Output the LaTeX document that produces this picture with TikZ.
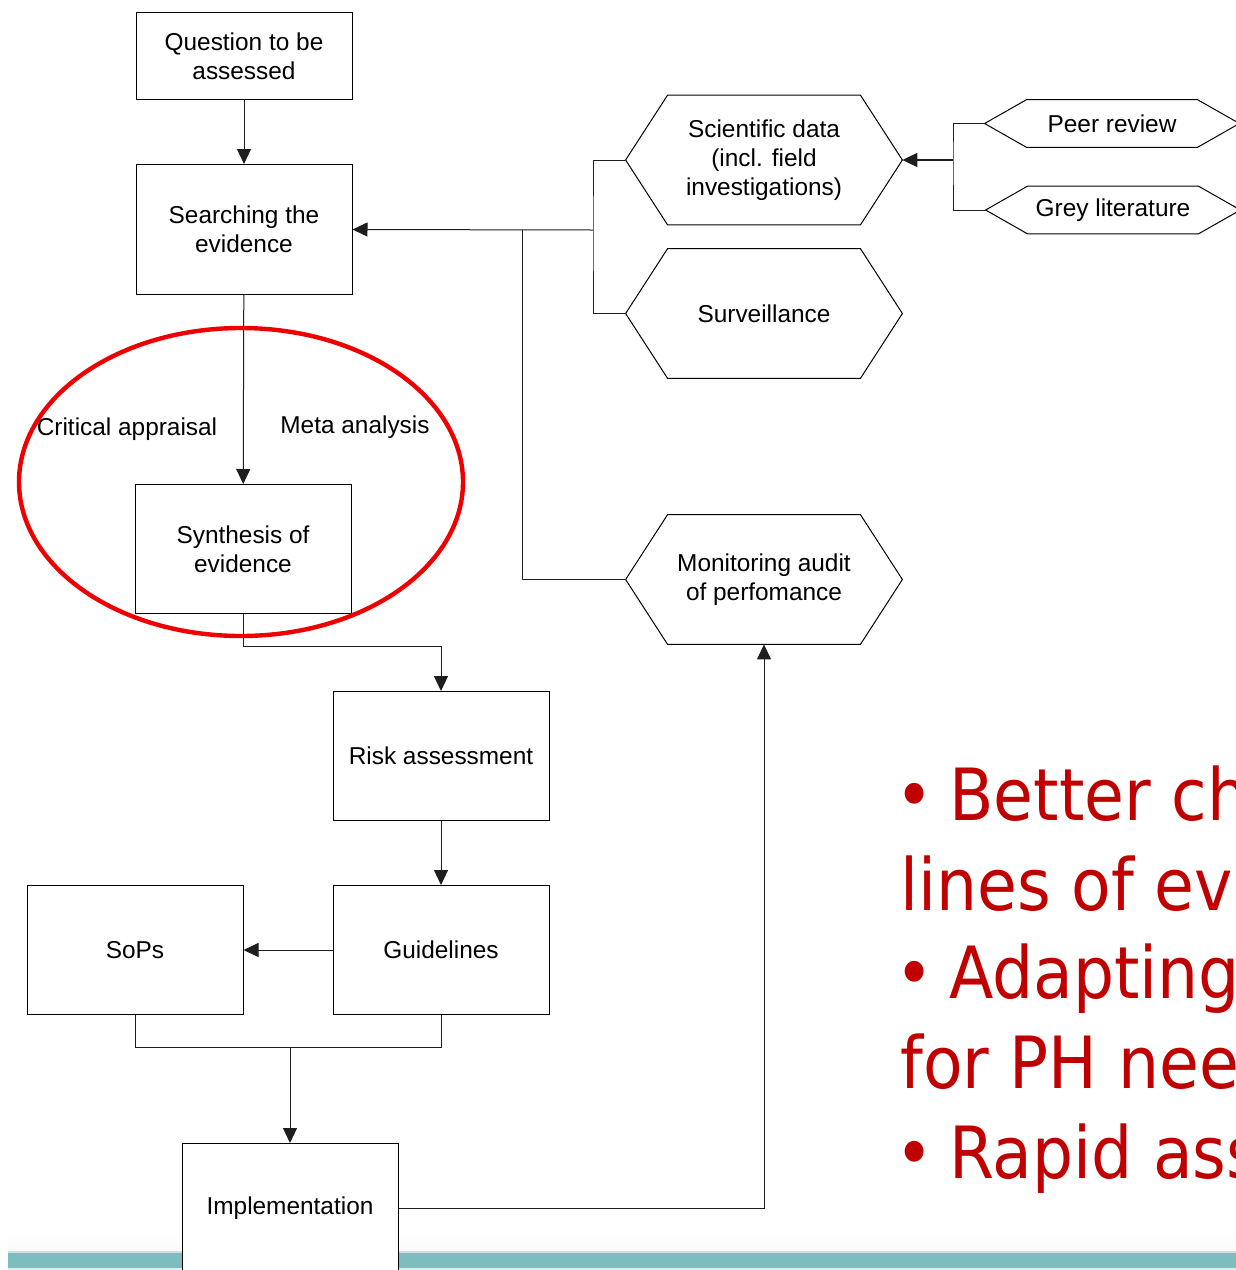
\documentclass[tikz,border=0pt]{standalone}
\usepackage{fontspec}
\setmainfont{Liberation Sans}
\newfontfamily\slidefont{DejaVu Sans Condensed}
\usetikzlibrary{arrows.meta}

\definecolor{linegray}{RGB}{30,30,30}
\definecolor{ringred}{RGB}{238,0,0}
\definecolor{bulletred}{RGB}{192,0,0}
\definecolor{bandteal}{RGB}{126,189,189}
\definecolor{bandlight}{RGB}{196,226,226}
\definecolor{hazepink}{RGB}{252,248,250}

\begin{document}
\begin{tikzpicture}[x=0.5pt,y=-0.5pt,
  txt/.style={font=\fontsize{12.2}{14.5}\selectfont},
  box/.style={txt, draw=black, line width=0.5pt, fill=white, align=center,
    inner sep=0pt, minimum width=108pt, minimum height=65pt},
  hexnode/.style={txt, align=center, inner sep=0pt,
    minimum width=138pt, minimum height=64.5pt},
  smallhex/.style={txt, align=center, inner sep=0pt,
    minimum width=127pt, minimum height=23.5pt},
  conn/.style={line width=0.5pt, draw=linegray},
  arr/.style={conn, -{Triangle[length=7.5pt,width=7pt]}},
  redline/.style={font=\slidefont\fontsize{36}{40}\selectfont, text=bulletred,
    anchor=base west, inner sep=0pt},
]
\useasboundingbox (0,0) rectangle (1236,1270);
\clip (0,0) rectangle (1236,1270);

% footer band
\shade[top color=white, bottom color=hazepink] (8,1234) rectangle (1236,1251);
\fill[bandteal] (8,1251) rectangle (1236,1268);
\fill[bandlight] (8,1251) rectangle (1236,1252.5);
\fill[bandlight!60] (8,1268) rectangle (1236,1270);

% process boxes
\node[box, minimum height=43.5pt] (question) at (244,56) {Question to be\\assessed};
\node[box] (search) at (244,229.5) {Searching the\\evidence};
\node[box, minimum height=64.5pt] (synth) at (243,549) {Synthesis of\\evidence};
\node[box, minimum height=64.5pt] (risk) at (441,756) {Risk assessment};
\node[box, minimum height=64.5pt] (guide) at (441,950) {Guidelines};
\node[box, minimum height=64.5pt] (sops) at (135,950) {SoPs};
\node[box] (impl) at (290,1208.5) {Implementation};

% evidence sources (hexagons)
\node[hexnode] (sci) at (764,160) {Scientific data\\(incl. field\\investigations)};
\node[hexnode] (surv) at (764,313.5) {Surveillance};
\node[hexnode] (monit) at (764,579.5) {Monitoring audit\\of perfomance};
\node[smallhex] (peer) at (1112,123.5) {Peer review};
\node[smallhex] (grey) at (1113,210) {Grey literature};

\foreach \h in {sci,surv,monit,peer,grey}
  \draw[line width=0.5pt] (\h.west) -- ([xshift=21pt]\h.north west)
    -- ([xshift=-21pt]\h.north east) -- (\h.east)
    -- ([xshift=-21pt]\h.south east) -- ([xshift=21pt]\h.south west) -- cycle;

% junction points
\coordinate (srcjoin) at (593,230);
\coordinate (monjoin) at (522,230);
\coordinate (litjoin) at (953,160);
\coordinate (outjoin) at (290,1047);

% main flow
\draw[arr] (question) -- (search);
\draw[arr] (search) -- (synth);
\draw[arr] (synth.south) |- (441,646) -- (risk.north);
\draw[arr] (risk) -- (guide);
\draw[arr] (guide) -- (sops);
\draw[conn] (sops.south) |- (outjoin) -| (guide.south);
\draw[arr] (outjoin) -- (impl.north);
\draw[arr] (impl.east) -| (monit.south);

% feedback and evidence inputs
\draw[conn] (sci.west) -| (srcjoin) |- (surv.west);
\draw[arr] (srcjoin) -- (search.east);
\draw[conn] (monit.west) -| (monjoin);
\draw[conn] (peer.west) -| (litjoin) |- (grey.west);
\draw[arr, line width=0.9pt] (litjoin) -- (sci.east);

% appraisal labels and highlight ring
\node[txt, anchor=center] (crit) at (127,429) {Critical appraisal};
\node[txt, anchor=center] (meta) at (355,427) {Meta analysis};
\draw[ringred, line width=2.2pt] (241,482) ellipse [x radius=111pt, y radius=77pt];

% slide bullets
\node[redline] (b1) at (895,820) {\textbullet};
\node[redline] (l1) at (949,820) {Better ch};
\node[redline] (l2) at (900,910) {lines of ev};
\node[redline] (b3) at (895,998) {\textbullet};
\node[redline] (l3) at (949,998) {Adapting};
\node[redline] (l4) at (900,1088) {for PH nee};
\node[redline] (b5) at (895,1178) {\textbullet};
\node[redline] (l5) at (949,1178) {Rapid ass};
\end{tikzpicture}
\end{document}
